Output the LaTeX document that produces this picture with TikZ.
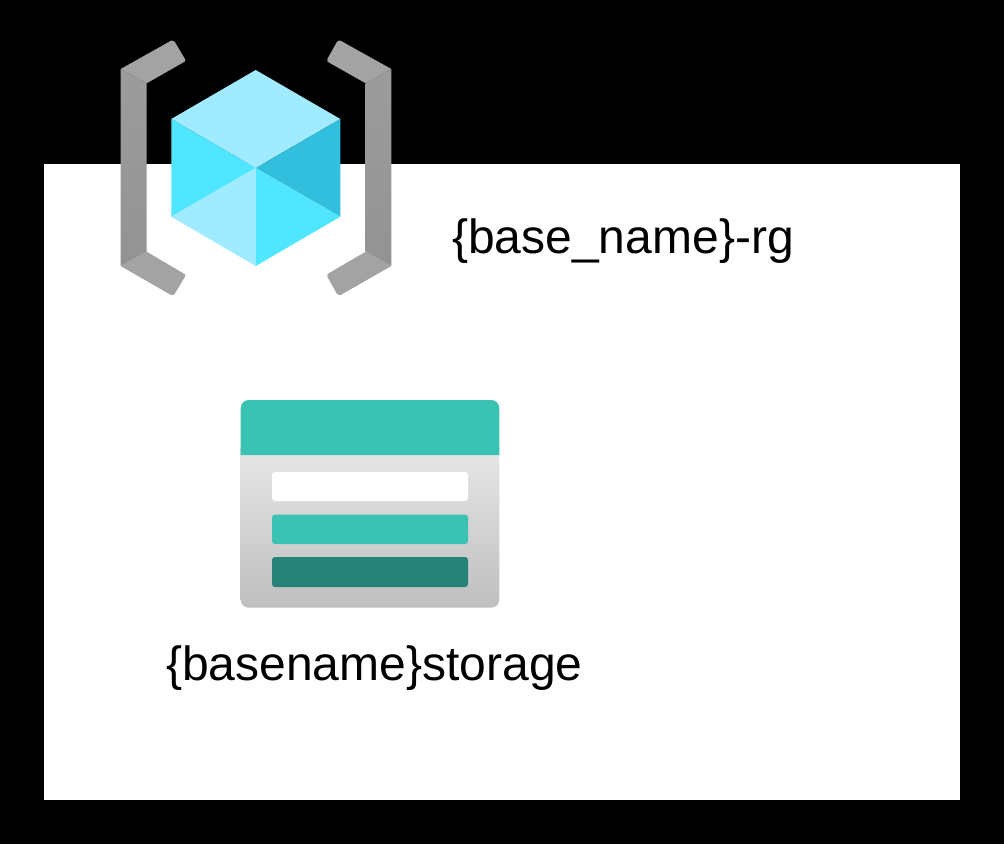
\documentclass[tikz,border=0pt]{standalone}
\usepackage{fontspec}
\setmainfont{Liberation Sans}
\definecolor{teal1}{HTML}{3AC3B3}
\definecolor{teal2}{HTML}{258277}
\definecolor{cubeL}{HTML}{A0EBFF}
\definecolor{cubeM}{HTML}{50E6FF}
\definecolor{cubeD}{HTML}{32BEDD}
\definecolor{flap}{HTML}{A3A3A3}
\definecolor{spineT}{HTML}{9C9C9C}
\definecolor{spineB}{HTML}{939393}
\definecolor{bodyT}{HTML}{E8E8E8}
\definecolor{bodyM}{HTML}{DADADA}
\definecolor{bodyB}{HTML}{BFBFBF}
\tikzset{
  lbl/.style={font=\fontsize{48}{58}\selectfont,text=black,inner sep=0pt,anchor=base west},
  bar/.style={fill=white,rounded corners=3pt},
  flapshape/.style={fill=flap},
  spine/.style={top color=spineT,bottom color=spineB}
}
\begin{document}
\begin{tikzpicture}[x=1pt,y=-1pt]
\useasboundingbox (0,0) rectangle (1004,844);
\fill[black] (0,0) rectangle (1004,844);
\fill[white] (44,164) rectangle (960,800);
% left bracket
\fill[flapshape] (120.7,69) -- (171,40.7) [rounded corners=2pt] -- (173.5,39.8) -- (186,60.7) -- (184,62) [sharp corners] -- (146.7,83.3) -- cycle;
\fill[flapshape] (120.7,266) -- (171,295) [rounded corners=2pt] -- (173.5,295.9) -- (186,275) -- (184,273.7) [sharp corners] -- (146.7,251.7) -- cycle;
\shade[spine] (120.7,69) -- (146.7,83.3) -- (146.7,251.7) -- (120.7,266) -- cycle;
% right bracket
\fill[flapshape] (391.3,69) -- (340.6,40.7) [rounded corners=2pt] -- (338.1,39.8) -- (326.4,60.7) -- (328,62) [sharp corners] -- (365.7,83.3) -- cycle;
\fill[flapshape] (391.3,266) -- (340.6,295) [rounded corners=2pt] -- (338.1,295.9) -- (326.4,275) -- (328,273.7) [sharp corners] -- (365.7,251.7) -- cycle;
\shade[spine] (391.3,69) -- (365.7,83.3) -- (365.7,251.7) -- (391.3,266) -- cycle;
% cube
\fill[cubeL] (255.7,70) -- (340.3,119) -- (255.7,168) -- (171.3,119) -- cycle;
\fill[cubeM] (171.3,119) -- (255.7,168) -- (171.3,216.7) -- cycle;
\fill[cubeD] (340.3,119) -- (255.7,168) -- (340.3,216.7) -- cycle;
\fill[cubeL] (171.3,216.7) -- (255.7,168) -- (255.7,266) -- cycle;
\fill[cubeM] (340.3,216.7) -- (255.7,168) -- (255.7,266) -- cycle;
% storage icon
\shade[top color=bodyT,middle color=bodyM,bottom color=bodyB,rounded corners=8pt]
  (240.7,440) -- (240.7,607.7) -- (499.3,607.7) -- (499.3,440) -- cycle;
\fill[teal1] (240.7,455) [rounded corners=8pt] -- (240.7,400) -- (499.3,400) [sharp corners] -- (499.3,455) -- cycle;
\fill[bar] (272,472) rectangle (468,501);
\fill[bar,fill=teal1] (272,514.5) rectangle (468,544);
\fill[bar,fill=teal2] (272,557) rectangle (468,587);
% labels
\node[lbl] (rg) at (452,253) {\{base\_name\}-rg};
\node[lbl] (st) at (166,680) {\{basename\}storage};
\end{tikzpicture}
\end{document}
